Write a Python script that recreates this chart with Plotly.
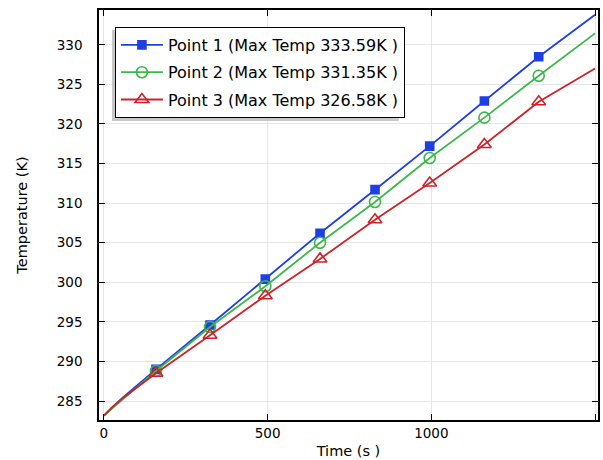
import plotly.graph_objects as go

# ---- data ----
time_s = [0, 25, 60, 110, 159, 324, 493, 660, 828, 995, 1162, 1328, 1500]
marker_idx = [4, 5, 6, 7, 8, 9, 10, 11]
temp_p1 = [283.15, 284.2, 285.5, 287.25, 289.0, 294.6, 300.4, 306.2, 311.7, 317.2, 322.9, 328.5, 333.8]
temp_p2 = [283.15, 284.05, 285.35, 287.05, 288.8, 294.35, 299.5, 305.0, 310.15, 315.7, 320.8, 326.1, 331.45]
temp_p3 = [283.15, 284.2, 285.45, 287.0, 288.5, 293.3, 298.3, 302.95, 307.9, 312.55, 317.4, 322.8, 327.0]
names = ["Point 1 (Max Temp 333.59K )", "Point 2 (Max Temp 331.35K )", "Point 3 (Max Temp 326.58K )"]
colors = ["#1f3fe6", "#3cb84a", "#cf2228"]
symbols = ["square", "circle-open", "triangle-up-open"]
sizes = [8, 11, 12]
x_ticks = [0, 500, 1000, 1500]
x_ticktext = ["0", "500", "1000", ""]
y_ticks = [285, 290, 295, 300, 305, 310, 315, 320, 325, 330]

FONT = "DejaVu Sans"
fig = go.Figure()
for k, (temps, name, col, sym, sz) in enumerate(zip([temp_p1, temp_p2, temp_p3], names, colors, symbols, sizes)):
    fig.add_trace(go.Scatter(x=time_s, y=temps, mode="lines", line=dict(color=col, width=1.8),
                             showlegend=False, hoverinfo="skip"))
    fig.add_trace(go.Scatter(x=[time_s[i] for i in marker_idx], y=[temps[i] for i in marker_idx],
                             mode="markers", showlegend=False,
                             marker=dict(symbol=sym, size=sz, color=col, line=dict(color=col, width=1.6))))
    fig.add_trace(go.Scatter(x=[None], y=[None], mode="lines+markers", name=name, legendgroup=f"g{k}",
                             line=dict(color=col, width=1.8),
                             marker=dict(symbol=sym, size=sz, color=col, line=dict(color=col, width=1.6))))

L, R, T, B = 99, 3, 10, 40
W, H = 603, 460
pw, ph = W - L - R, H - T - B

def px(x, y):
    return (x - L) / pw, (H - B - y) / ph

# legend shadow
x0, y0 = px(112, 121)
x1, y1 = px(400, 30)
fig.add_shape(type="rect", xref="paper", yref="paper", x0=x0, y0=y0, x1=x1, y1=y1,
              fillcolor="#b0b0b0", line=dict(width=0), layer="above", opacity=0.7)

lx, ly = px(115, 27)
fig.update_layout(
    width=W, height=H, margin=dict(l=L, r=R, t=T, b=B),
    paper_bgcolor="white", plot_bgcolor="white",
    font=dict(family=FONT, color="black", size=14),
    legend=dict(x=lx, y=ly, xanchor="left", yanchor="top", bgcolor="white",
                bordercolor="black", borderwidth=1, font=dict(size=16, family=FONT),
                tracegroupgap=3.5, itemwidth=42),
    xaxis=dict(range=[-15, 1509], tickvals=x_ticks, ticktext=x_ticktext, ticks="inside", ticklen=6,
               tickcolor="black", showline=True, linecolor="black", linewidth=1.5, mirror="ticks",
               showgrid=True, gridcolor="#e6e6e6", zeroline=False, tickfont=dict(size=13.5),
               title=dict(text="Time (s )", font=dict(size=14.5), standoff=6)),
    yaxis=dict(range=[282.6, 334.4], tickvals=y_ticks, ticks="inside", ticklen=6, ticklabelstandoff=12,
               tickcolor="black", showline=True, linecolor="black", linewidth=1.5, mirror="ticks",
               showgrid=True, gridcolor="#e6e6e6", zeroline=False, tickfont=dict(size=13.5),
               title=dict(text="Temperature (K)", font=dict(size=14.5), standoff=26)),
)
fig.write_html("out.html")
